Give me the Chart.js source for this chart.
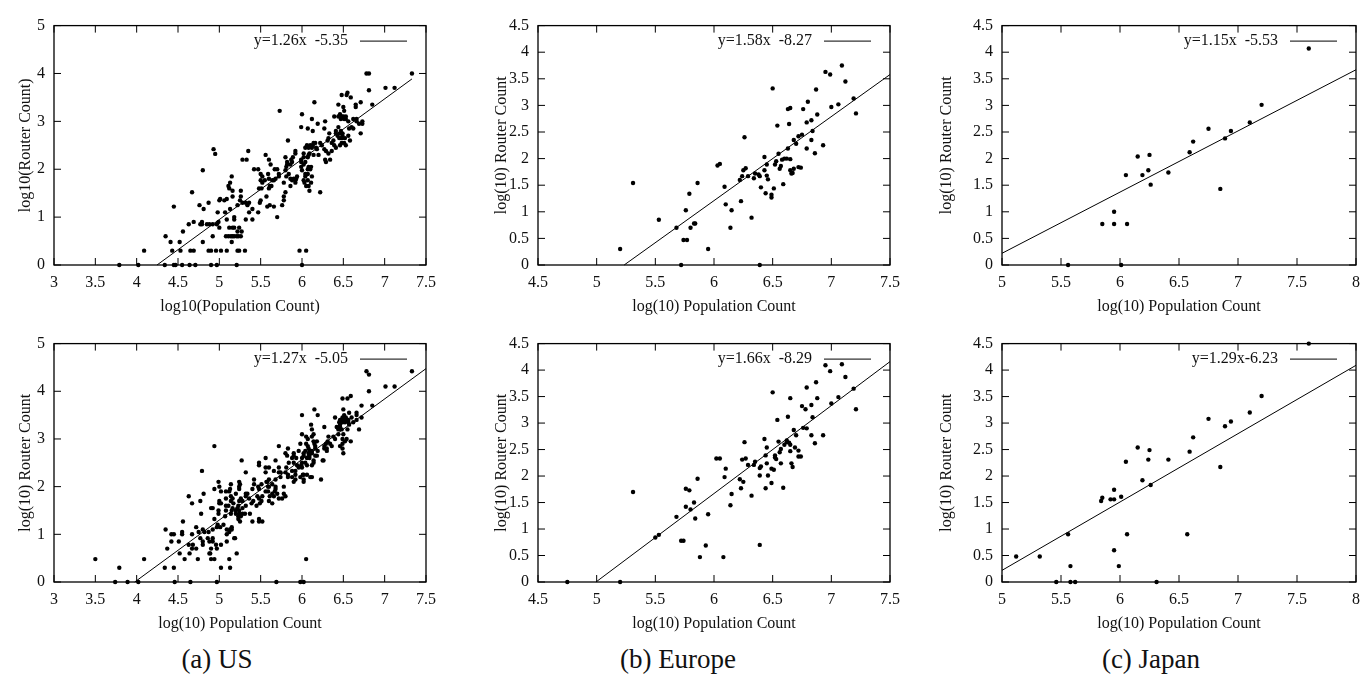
<!DOCTYPE html>
<html>
<head>
<meta charset="utf-8">
<script src="https://cdn.jsdelivr.net/npm/chart.js@4.4.1/dist/chart.umd.min.js"></script>
<style>
    body { margin: 0; background: #fff; }
    #lienzo { position: relative; width: 1363px; height: 675px; overflow: hidden; background: #fff; }
    #lienzo canvas { position: absolute; }
    .caption {
        position: absolute;
        font-family: 'Liberation Serif', 'Times New Roman', serif;
        font-size: 27px;
        line-height: 1;
        color: #111;
        white-space: nowrap;
        transform: translate(-50%, -50%);
    }
</style>
</head>
<body>
<div id="lienzo"></div>
<script>
(function () {
    // [log10 poblacion, log10 routers]
    var usTop = [
        [3.79, 0], [4.02, 0], [4.34, 0], [4.45, 0], [4.47, 0], [4.55, 0], [4.64, 0], [4.71, 0], [4.90, 0], [4.97, 0], [5.21, 0], [6.00, 0],
        [4.09, 0.3], [4.43, 0.3], [4.53, 0.3], [4.65, 0.3], [4.69, 0.3], [4.87, 0.3], [4.90, 0.3], [4.96, 0.3], [5.02, 0.3], [5.09, 0.3], [5.22, 0.3], [5.24, 0.3], [5.31, 0.3], [5.97, 0.3], [6.05, 0.3],
        [4.41, 0.48], [4.52, 0.48], [4.80, 0.48], [5.15, 0.48],
        [4.35, 0.6], [4.92, 0.6], [5.08, 0.6], [5.11, 0.6], [5.14, 0.6], [5.16, 0.6], [5.18, 0.6], [5.21, 0.6], [5.23, 0.6], [5.26, 0.6],
        [4.56, 0.7], [5.22, 0.7], [5.27, 0.7],
        [5.00, 0.78], [5.12, 0.78], [5.16, 0.78], [5.18, 0.78], [5.24, 0.78],
        [4.63, 0.85], [4.77, 0.85], [4.79, 0.85], [4.85, 0.85], [4.88, 0.85], [4.92, 0.85], [4.97, 0.85],
        [4.69, 0.9], [4.79, 0.9], [4.99, 0.9],
        [5.09, 0.95], [5.18, 0.95], [5.32, 0.95], [5.40, 0.95],
        [5.18, 1.0], [5.70, 1.0],
        [4.98, 1.1], [5.07, 1.1], [5.36, 1.1], [5.47, 1.1],
        [4.81, 1.17], [5.13, 1.17], [5.40, 1.17],
        [4.45, 1.22], [5.58, 1.22], [5.66, 1.22],
        [4.76, 1.25], [5.22, 1.25], [5.34, 1.25], [5.61, 1.25], [5.76, 1.25],
        [4.87, 1.3], [5.28, 1.3], [5.32, 1.3], [5.36, 1.3], [5.49, 1.3],
        [5.00, 1.35], [5.06, 1.35], [5.25, 1.35], [5.50, 1.35], [5.78, 1.35],
        [5.01, 1.38], [5.09, 1.38],
        [5.16, 1.43], [5.26, 1.43], [5.57, 1.43], [5.78, 1.43],
        [4.67, 1.52], [5.80, 1.52], [6.22, 1.52],
        [5.16, 1.55], [5.26, 1.55], [6.09, 1.55],
        [5.12, 1.6], [5.48, 1.6], [5.51, 1.6], [5.60, 1.6],
        [5.11, 1.65], [5.61, 1.65], [5.63, 1.65], [5.86, 1.65], [6.05, 1.65], [6.08, 1.65],
        [5.13, 1.72], [5.52, 1.72], [5.78, 1.72], [5.92, 1.72], [6.03, 1.72], [6.11, 1.72],
        [5.50, 1.77], [5.55, 1.77], [5.64, 1.77], [5.66, 1.77], [5.88, 1.77], [5.92, 1.77], [6.02, 1.77], [6.07, 1.77],
        [5.60, 1.8], [5.68, 1.8], [5.86, 1.8], [5.90, 1.8], [5.93, 1.8],
        [5.15, 1.85], [5.52, 1.85], [5.72, 1.85], [5.81, 1.85], [5.94, 1.85], [6.04, 1.85], [6.12, 1.85],
        [5.50, 1.9], [5.59, 1.9], [5.72, 1.9], [5.84, 1.9], [6.04, 1.9], [6.07, 1.9],
        [4.80, 1.98], [5.80, 1.98], [6.00, 1.98],
        [5.42, 2.0], [5.47, 2.0], [5.67, 2.0], [5.70, 2.0], [6.07, 2.0], [6.10, 2.0],
        [5.81, 2.05], [5.99, 2.05], [6.08, 2.05], [6.11, 2.05],
        [5.62, 2.1], [5.82, 2.1], [5.86, 2.1], [6.02, 2.1],
        [5.82, 2.15], [5.88, 2.15], [5.99, 2.15], [6.04, 2.15], [6.29, 2.15],
        [5.28, 2.2], [5.33, 2.2], [5.60, 2.2], [5.87, 2.2], [5.99, 2.2], [6.28, 2.2], [6.34, 2.2],
        [5.80, 2.25], [5.89, 2.25], [6.02, 2.25], [6.07, 2.25],
        [4.95, 2.32], [5.56, 2.3], [6.08, 2.3], [6.14, 2.3], [6.20, 2.3],
        [5.92, 2.33], [6.02, 2.33], [6.09, 2.33], [6.32, 2.33],
        [5.35, 2.38], [5.92, 2.38], [6.29, 2.38], [6.36, 2.38],
        [4.93, 2.42], [6.18, 2.42], [6.27, 2.42],
        [6.04, 2.45], [6.08, 2.45], [6.12, 2.45], [6.17, 2.45], [6.41, 2.45],
        [6.06, 2.5], [6.10, 2.5], [6.13, 2.5], [6.24, 2.5], [6.39, 2.5], [6.46, 2.5], [6.53, 2.5],
        [6.14, 2.55], [6.16, 2.55], [6.22, 2.55], [6.36, 2.55], [6.48, 2.55], [6.51, 2.55],
        [5.83, 2.6], [6.31, 2.6], [6.38, 2.6], [6.58, 2.6],
        [6.32, 2.65], [6.45, 2.65], [6.47, 2.65], [6.49, 2.65], [6.52, 2.65],
        [6.43, 2.7], [6.49, 2.7], [6.56, 2.7],
        [6.33, 2.75], [6.41, 2.75], [6.46, 2.75], [6.49, 2.75], [6.71, 2.75],
        [6.13, 2.8], [6.41, 2.8], [6.47, 2.8],
        [6.07, 2.85], [6.27, 2.85], [6.57, 2.85], [6.62, 2.85],
        [5.99, 2.88], [6.44, 2.88], [6.60, 2.88],
        [6.19, 2.95], [6.69, 2.95], [6.73, 2.95],
        [6.28, 3.0], [6.56, 3.0], [6.66, 3.0], [6.73, 3.0],
        [6.12, 3.05], [6.47, 3.05], [6.51, 3.05], [6.53, 3.05], [6.62, 3.05], [6.66, 3.05],
        [6.39, 3.1], [6.44, 3.1], [6.48, 3.1], [6.50, 3.1], [6.53, 3.1],
        [6.00, 3.15], [6.46, 3.15],
        [5.73, 3.22], [6.51, 3.22],
        [6.50, 3.3], [6.65, 3.3],
        [6.44, 3.35], [6.65, 3.35], [6.85, 3.35],
        [6.15, 3.4], [6.71, 3.4],
        [6.59, 3.5], [6.48, 3.55], [6.54, 3.55], [6.55, 3.6], [6.81, 3.65],
        [7.01, 3.7], [7.12, 3.7],
        [6.78, 4.0], [6.81, 4.0], [7.33, 4.0],
    ];

    var europeTop = [
        [5.20, 0.30], [5.31, 1.54], [5.53, 0.85], [5.68, 0.70], [5.72, 0], [5.74, 0.47], [5.77, 0.47],
        [5.76, 1.03], [5.79, 1.34], [5.80, 0.70], [5.83, 0.78], [5.84, 0.78], [5.86, 1.54], [5.95, 0.30],
        [6.03, 1.87], [6.05, 1.90], [6.09, 1.47], [6.10, 1.14], [6.14, 0.70], [6.15, 1.03],
        [6.22, 1.60], [6.23, 1.20], [6.24, 1.67], [6.25, 1.78], [6.27, 1.82], [6.26, 2.40],
        [6.29, 1.67], [6.32, 0.89], [6.34, 1.63], [6.35, 1.72], [6.38, 1.70], [6.39, 1.67],
        [6.39, 0], [6.40, 1.46], [6.43, 2.03], [6.43, 1.78], [6.44, 1.35], [6.45, 1.89],
        [6.45, 1.68], [6.46, 1.61], [6.50, 3.32], [6.49, 1.32], [6.49, 1.27], [6.51, 1.44],
        [6.52, 1.89], [6.53, 1.95], [6.54, 2.62], [6.55, 2.09], [6.56, 1.81], [6.57, 1.86],
        [6.58, 1.98], [6.59, 1.52], [6.60, 2.00], [6.62, 2.00], [6.63, 2.19], [6.63, 2.93],
        [6.64, 2.65], [6.65, 2.95], [6.65, 1.99], [6.65, 1.78], [6.66, 1.72], [6.67, 1.73],
        [6.68, 2.35], [6.68, 1.81], [6.70, 2.28], [6.72, 2.42], [6.72, 1.84], [6.74, 1.83],
        [6.75, 2.45], [6.76, 2.93], [6.79, 2.68], [6.79, 2.19], [6.80, 3.07], [6.83, 2.35],
        [6.83, 2.72], [6.84, 2.52], [6.86, 2.10], [6.87, 3.30], [6.88, 2.83], [6.93, 2.25],
        [6.95, 3.63], [6.99, 3.58], [7.00, 2.97], [7.06, 3.02], [7.09, 3.75], [7.12, 3.45],
        [7.19, 3.13], [7.21, 2.85],
    ];

    var japanTop = [
        [5.56, 0], [5.85, 0.77], [5.95, 1.00], [5.95, 0.77], [6.01, 0], [6.05, 1.69], [6.06, 0.77],
        [6.15, 2.04], [6.19, 1.69], [6.24, 1.78], [6.25, 2.07], [6.26, 1.51], [6.41, 1.74],
        [6.59, 2.12], [6.62, 2.32], [6.75, 2.56], [6.85, 1.43], [6.89, 2.38], [6.94, 2.52],
        [7.10, 2.68], [7.20, 3.01], [7.60, 4.07],
    ];

    var usBottom = [
        [3.74, 0], [3.89, 0], [4.02, 0], [4.46, 0], [4.65, 0], [4.97, 0], [5.69, 0], [5.98, 0], [6.02, 0],
        [3.79, 0.3], [4.34, 0.3], [4.45, 0.3], [5.02, 0.3], [5.13, 0.3],
        [3.50, 0.48], [4.09, 0.48], [4.58, 0.48], [4.74, 0.48], [4.90, 0.48], [4.94, 0.48], [5.12, 0.48], [6.05, 0.48],
        [4.52, 0.6], [4.64, 0.6], [4.88, 0.6], [4.89, 0.6], [5.21, 0.6],
        [4.37, 0.7], [4.67, 0.7], [4.72, 0.7], [4.90, 0.7], [4.97, 0.7],
        [4.63, 0.78], [4.68, 0.78], [4.80, 0.78], [4.96, 0.78], [5.02, 0.78],
        [4.42, 0.85], [4.51, 0.85], [4.80, 0.85], [4.88, 0.85], [4.92, 0.85], [5.09, 0.85],
        [4.77, 0.92], [4.86, 0.92], [4.92, 0.92], [5.18, 0.92], [5.19, 0.92],
        [4.42, 1.0], [4.45, 1.0], [4.55, 1.0], [4.67, 1.0], [5.09, 1.0],
        [4.55, 1.05], [4.75, 1.05], [4.82, 1.05], [4.87, 1.05], [5.12, 1.05],
        [4.35, 1.1], [4.80, 1.1], [4.92, 1.1], [5.09, 1.1], [5.13, 1.1], [5.15, 1.1],
        [4.72, 1.15], [4.97, 1.15], [5.01, 1.15], [5.15, 1.15],
        [4.98, 1.2], [5.05, 1.2],
        [4.56, 1.27], [5.25, 1.27], [5.40, 1.27], [5.48, 1.27], [5.52, 1.27],
        [4.94, 1.32], [5.23, 1.32], [5.48, 1.32],
        [5.07, 1.38], [5.23, 1.38], [5.26, 1.38],
        [4.78, 1.43], [4.99, 1.43], [5.14, 1.43], [5.20, 1.43], [5.24, 1.43], [5.28, 1.43], [5.31, 1.43], [5.37, 1.43],
        [4.99, 1.5], [5.08, 1.5], [5.15, 1.5], [5.20, 1.5], [5.24, 1.5],
        [4.90, 1.55], [4.92, 1.55], [5.16, 1.55], [5.22, 1.55], [5.28, 1.55],
        [5.08, 1.6], [5.11, 1.6], [5.23, 1.6], [5.32, 1.6], [5.45, 1.6],
        [4.67, 1.65], [5.00, 1.65], [5.02, 1.65], [5.17, 1.65], [5.39, 1.65], [5.49, 1.65], [5.64, 1.65],
        [4.77, 1.7], [5.00, 1.7], [5.14, 1.7], [5.24, 1.7], [5.28, 1.7], [5.41, 1.7], [5.51, 1.7], [5.60, 1.7],
        [5.08, 1.75], [5.16, 1.75], [5.26, 1.75], [5.36, 1.75], [5.48, 1.75], [5.72, 1.75], [5.76, 1.75],
        [4.63, 1.8], [5.14, 1.8], [5.32, 1.8], [5.46, 1.8], [5.52, 1.8], [5.61, 1.8], [5.66, 1.8], [5.80, 1.8],
        [4.81, 1.85], [5.20, 1.85], [5.32, 1.85], [5.34, 1.85], [5.64, 1.85], [5.70, 1.85], [5.78, 1.85],
        [5.02, 1.9], [5.08, 1.9], [5.12, 1.9], [5.56, 1.9], [5.59, 1.9], [5.67, 1.9],
        [4.94, 1.95], [5.13, 1.95], [5.24, 1.95], [5.40, 1.95], [5.48, 1.95], [5.68, 1.95],
        [5.00, 2.0], [5.24, 2.0], [5.47, 2.0], [5.59, 2.0], [5.60, 2.0], [5.68, 2.0], [5.78, 2.0],
        [5.14, 2.05], [5.25, 2.05], [5.42, 2.05], [5.51, 2.05], [5.64, 2.05],
        [4.99, 2.1], [5.24, 2.1], [5.57, 2.1], [5.58, 2.1], [5.90, 2.1], [6.02, 2.1],
        [5.42, 2.15], [5.60, 2.15], [5.68, 2.15], [5.92, 2.15], [6.02, 2.15], [6.23, 2.15],
        [5.74, 2.2], [5.83, 2.2], [5.88, 2.2], [5.98, 2.2], [6.10, 2.2], [6.12, 2.2],
        [5.83, 2.25], [5.92, 2.25], [6.01, 2.25], [6.02, 2.25], [6.06, 2.25],
        [5.32, 2.3], [5.56, 2.3], [5.72, 2.3], [5.74, 2.3], [5.80, 2.3],
        [4.79, 2.33], [5.66, 2.33], [5.88, 2.33], [5.92, 2.33],
        [5.56, 2.4], [5.60, 2.4], [5.72, 2.4], [5.81, 2.4], [5.96, 2.4], [6.00, 2.4],
        [5.48, 2.45], [5.94, 2.45], [5.99, 2.45], [6.06, 2.45], [6.12, 2.45],
        [5.48, 2.5], [5.84, 2.5], [5.90, 2.5], [6.00, 2.5], [6.04, 2.5], [6.14, 2.5],
        [5.27, 2.55], [5.68, 2.55], [6.14, 2.55], [6.25, 2.55], [6.26, 2.55],
        [5.56, 2.6], [5.88, 2.6], [5.93, 2.6], [6.00, 2.6], [6.06, 2.6], [6.09, 2.6],
        [5.82, 2.65], [5.90, 2.65], [6.02, 2.65], [6.09, 2.65], [6.16, 2.65], [6.18, 2.65],
        [5.80, 2.7], [5.90, 2.7], [6.02, 2.7], [6.08, 2.7], [6.12, 2.7], [6.50, 2.7],
        [5.96, 2.75], [6.04, 2.75], [6.09, 2.75], [6.12, 2.75], [6.19, 2.75], [6.30, 2.75],
        [5.83, 2.8], [6.08, 2.8], [6.16, 2.8], [6.27, 2.8], [6.30, 2.8], [6.49, 2.8],
        [4.94, 2.85], [5.72, 2.85], [6.07, 2.85], [6.16, 2.85], [6.27, 2.85], [6.36, 2.85], [6.46, 2.85],
        [5.98, 2.9], [6.05, 2.9], [6.15, 2.9], [6.29, 2.9], [6.34, 2.9], [6.49, 2.9],
        [6.14, 2.95], [6.18, 2.95], [6.31, 2.95], [6.52, 2.95], [6.59, 2.95],
        [6.07, 3.0], [6.40, 3.0], [6.49, 3.0], [6.54, 3.0],
        [6.05, 3.05], [6.12, 3.05], [6.32, 3.05], [6.38, 3.05],
        [6.00, 3.1], [6.14, 3.1], [6.44, 3.1], [6.50, 3.1],
        [6.12, 3.2], [6.44, 3.2], [6.48, 3.2], [6.55, 3.2], [6.69, 3.2],
        [6.27, 3.25], [6.42, 3.25], [6.46, 3.25],
        [6.11, 3.3], [6.46, 3.3], [6.57, 3.3],
        [6.45, 3.35], [6.49, 3.35], [6.52, 3.35], [6.56, 3.35], [6.62, 3.35],
        [6.46, 3.4], [6.50, 3.4], [6.54, 3.4], [6.56, 3.4], [6.66, 3.4],
        [6.40, 3.45], [6.49, 3.45], [6.53, 3.45], [6.60, 3.45], [6.72, 3.45],
        [6.00, 3.5], [6.19, 3.5], [6.51, 3.5], [6.66, 3.5],
        [6.57, 3.55], [6.66, 3.55], [6.15, 3.62], [6.50, 3.62],
        [6.72, 3.7], [6.85, 3.7], [6.49, 3.85], [6.55, 3.85], [6.59, 3.9], [6.81, 4.0],
        [7.01, 4.1], [7.12, 4.1], [6.81, 4.35], [6.78, 4.42], [7.33, 4.42],
    ];

    var europeBottom = [
        [4.75, 0], [5.20, 0], [5.31, 1.70], [5.50, 0.84], [5.53, 0.89], [5.68, 1.23], [5.72, 0.78],
        [5.74, 0.78], [5.76, 1.42], [5.76, 1.76], [5.79, 1.73], [5.80, 1.37], [5.83, 1.50], [5.84, 1.20],
        [5.86, 1.95], [5.88, 0.47], [5.93, 0.69], [5.95, 1.28], [6.02, 2.33], [6.05, 2.33], [6.08, 0.47],
        [6.09, 1.98], [6.10, 2.14], [6.14, 1.45], [6.15, 1.66], [6.22, 1.94], [6.23, 1.77], [6.24, 2.31],
        [6.25, 1.89], [6.26, 2.64], [6.27, 2.33], [6.29, 2.21], [6.32, 1.63], [6.34, 2.21], [6.35, 2.27],
        [6.39, 2.15], [6.39, 2.01], [6.39, 0.70], [6.40, 2.18], [6.43, 2.70], [6.44, 2.39], [6.44, 1.77],
        [6.45, 2.24], [6.45, 2.54], [6.46, 2.01], [6.49, 1.87], [6.50, 3.58], [6.49, 2.14], [6.51, 2.12],
        [6.52, 2.39], [6.52, 2.35], [6.53, 2.32], [6.54, 3.06], [6.55, 2.65], [6.56, 2.45], [6.57, 2.24],
        [6.57, 2.51], [6.59, 1.78], [6.60, 2.59], [6.62, 2.64], [6.62, 2.67], [6.63, 3.12], [6.64, 2.63],
        [6.65, 2.59], [6.65, 2.47], [6.65, 3.47], [6.66, 2.24], [6.67, 2.17], [6.68, 2.87], [6.69, 2.54],
        [6.70, 2.77], [6.72, 2.48], [6.72, 2.37], [6.74, 2.37], [6.75, 3.32], [6.76, 2.91], [6.78, 3.26],
        [6.79, 3.67], [6.79, 2.90], [6.83, 3.34], [6.83, 2.77], [6.84, 3.11], [6.86, 2.62], [6.87, 3.77],
        [6.88, 3.47], [6.93, 2.77], [6.95, 4.09], [6.99, 3.98], [7.00, 3.37], [7.06, 3.49], [7.09, 4.11],
        [7.12, 3.87], [7.19, 3.65], [7.21, 3.26],
    ];

    var japanBottom = [
        [5.12, 0.48], [5.32, 0.48], [5.46, 0], [5.56, 0.90], [5.58, 0.30], [5.58, 0], [5.62, 0],
        [5.84, 1.53], [5.85, 1.59], [5.92, 1.56], [5.95, 1.74], [5.95, 1.56], [5.95, 0.60], [5.99, 0.30],
        [6.01, 1.61], [6.05, 2.27], [6.06, 0.90], [6.15, 2.54], [6.19, 1.92], [6.24, 2.31], [6.25, 2.49],
        [6.26, 1.83], [6.31, 0], [6.41, 2.31], [6.57, 0.90], [6.59, 2.46], [6.62, 2.73], [6.75, 3.08],
        [6.85, 2.17], [6.89, 2.94], [6.94, 3.03], [7.10, 3.20], [7.20, 3.51], [7.60, 4.50],
    ];

    // ajuste lineal [pendiente, intercepto] y hasta donde se traza
    var fitSlopes = [1.26, 1.58, 1.15, 1.27, 1.66, 1.29];
    var fitIntercepts = [-5.35, -8.27, -5.53, -5.05, -8.29, -6.23];
    var fitEnds = [7.33, 7.5, 8, 7.5, 7.5, 8];
    var fitLabels = ['y=1.26x  -5.35', 'y=1.58x  -8.27', 'y=1.15x  -5.53',
        'y=1.27x  -5.05', 'y=1.66x  -8.29', 'y=1.29x-6.23'];

    var xMins = [3, 4.5, 5, 3, 4.5, 5];
    var xMaxs = [7.5, 7.5, 8, 7.5, 7.5, 8];
    var yMaxs = [5, 4.5, 4.5, 5, 4.5, 4.5];
    var ySteps = [1, 0.5, 0.5, 1, 0.5, 0.5];

    var xTitles = ['log10(Population Count)', 'log(10) Population Count', 'log(10) Population Count',
        'log(10) Population Count', 'log(10) Population Count', 'log(10) Population Count'];
    var yTitles = ['log10(Router Count)', 'log(10) Router Count', 'log(10) Router Count',
        'log(10) Router Count', 'log(10) Router Count', 'log(10) Router Count'];

    var captions = ['(a) US', '(b) Europe', '(c) Japan'];

    var series = [usTop, europeTop, japanTop, usBottom, europeBottom, japanBottom];

    // marco de cada panel en la pagina
    var FRAMES = [
        {L: 54, T: 19, R: 428, B: 265, tx: 26},
        {L: 538, T: 19, R: 892, B: 265, tx: 502},
        {L: 1002, T: 19, R: 1356, B: 265, tx: 947},
        {L: 54, T: 337, R: 428, B: 582, tx: 26},
        {L: 538, T: 337, R: 892, B: 582, tx: 502},
        {L: 1002, T: 337, R: 1356, B: 582, tx: 947},
    ];
    var CAPTION_POS = [[217, 659], [678, 659], [1151, 659]];

    var FUENTE = "'Liberation Serif', 'Times New Roman', serif";
    var PAD_TOP = 12;
    var PAD_RIGHT = 16;
    var X_ALTO = 51;
    var TICK = 7;

    Chart.defaults.font.family = FUENTE;
    Chart.defaults.font.size = 16;
    Chart.defaults.color = '#111';

    function etiquetaTick(v) {
        return String(Math.round(v * 10) / 10);
    }

    var marcoGnuplot = {
        id: 'marco',
        beforeDatasetsDraw: function (chart) {
            var ctx = chart.ctx;
            var a = chart.chartArea;
            var sx = chart.scales.x;
            var sy = chart.scales.y;

            ctx.save();
            ctx.strokeStyle = '#000';
            ctx.lineWidth = 1.3;
            ctx.strokeRect(a.left, a.top, a.right - a.left, a.bottom - a.top);

            ctx.beginPath();
            sx.ticks.forEach(function (t) {
                var px = sx.getPixelForValue(t.value);
                ctx.moveTo(px, a.bottom);
                ctx.lineTo(px, a.bottom - TICK);
                ctx.moveTo(px, a.top);
                ctx.lineTo(px, a.top + TICK);
            });
            sy.ticks.forEach(function (t) {
                var py = sy.getPixelForValue(t.value);
                ctx.moveTo(a.left, py);
                ctx.lineTo(a.left + TICK, py);
                ctx.moveTo(a.right, py);
                ctx.lineTo(a.right - TICK, py);
            });
            ctx.lineWidth = 1;
            ctx.stroke();
            ctx.restore();
        },
        afterDraw: function (chart, args, opts) {
            var ctx = chart.ctx;
            var a = chart.chartArea;
            var y = a.top + 15.5;

            ctx.save();
            ctx.fillStyle = '#111';
            ctx.font = '16px ' + FUENTE;
            ctx.textAlign = 'right';
            ctx.textBaseline = 'middle';
            ctx.fillText(opts.etiqueta, a.right - 78, y);

            ctx.strokeStyle = '#000';
            ctx.lineWidth = 1;
            ctx.beginPath();
            ctx.moveTo(a.right - 66, y);
            ctx.lineTo(a.right - 19, y);
            ctx.stroke();
            ctx.restore();
        },
    };

    var lienzo = document.getElementById('lienzo');

    function dibujarPanel(i) {
        var f = FRAMES[i];
        var izq = Math.floor(f.tx - 10.6);
        var yAncho = f.L - izq;
        var ancho = yAncho + (f.R - f.L) + PAD_RIGHT;
        var alto = PAD_TOP + (f.B - f.T) + X_ALTO;

        var canvas = document.createElement('canvas');
        canvas.width = ancho;
        canvas.height = alto;
        canvas.style.left = izq + 'px';
        canvas.style.top = (f.T - PAD_TOP) + 'px';
        canvas.style.width = ancho + 'px';
        canvas.style.height = alto + 'px';
        lienzo.appendChild(canvas);

        var a = fitSlopes[i];
        var b = fitIntercepts[i];
        var x0 = Math.max(xMins[i], -b / a);
        var recta = [
            {x: x0, y: a * x0 + b},
            {x: fitEnds[i], y: a * fitEnds[i] + b},
        ];

        var puntos = series[i].map(function (p) {
            return {x: p[0], y: p[1]};
        });

        return new Chart(canvas, {
            type: 'scatter',
            data: {
                datasets: [{
                    data: puntos,
                    pointRadius: 2.2,
                    pointBackgroundColor: '#000',
                    pointBorderWidth: 0,
                    clip: false,
                }, {
                    type: 'line',
                    data: recta,
                    borderColor: '#000',
                    borderWidth: 1,
                    pointRadius: 0,
                    fill: false,
                    clip: false,
                }],
            },
            plugins: [marcoGnuplot],
            options: {
                responsive: false,
                animation: false,
                devicePixelRatio: 1,
                layout: {padding: {top: PAD_TOP, right: PAD_RIGHT, left: 0, bottom: 0}},
                plugins: {
                    legend: {display: false},
                    tooltip: {enabled: false},
                    marco: {etiqueta: fitLabels[i]},
                },
                scales: {
                    x: {
                        type: 'linear',
                        min: xMins[i],
                        max: xMaxs[i],
                        grid: {display: false, drawTicks: false},
                        border: {display: false},
                        ticks: {stepSize: 0.5, autoSkip: false, maxRotation: 0, padding: 8, callback: etiquetaTick},
                        title: {display: true, text: xTitles[i], padding: {top: 0, bottom: 0}},
                        afterFit: function (s) { s.height = X_ALTO; },
                    },
                    y: {
                        type: 'linear',
                        min: 0,
                        max: yMaxs[i],
                        grid: {display: false, drawTicks: false},
                        border: {display: false},
                        ticks: {stepSize: ySteps[i], autoSkip: false, padding: 9, callback: etiquetaTick},
                        title: {display: true, text: yTitles[i], padding: {top: f.tx - 9.6 - izq, bottom: 0}},
                        afterFit: function (s) { s.width = yAncho; },
                    },
                },
            },
        });
    }

    FRAMES.forEach(function (_, i) {
        dibujarPanel(i);
    });

    captions.forEach(function (texto, i) {
        var d = document.createElement('div');
        d.className = 'caption';
        d.textContent = texto;
        d.style.left = CAPTION_POS[i][0] + 'px';
        d.style.top = CAPTION_POS[i][1] + 'px';
        lienzo.appendChild(d);
    });
})();
</script>
</body>
</html>
